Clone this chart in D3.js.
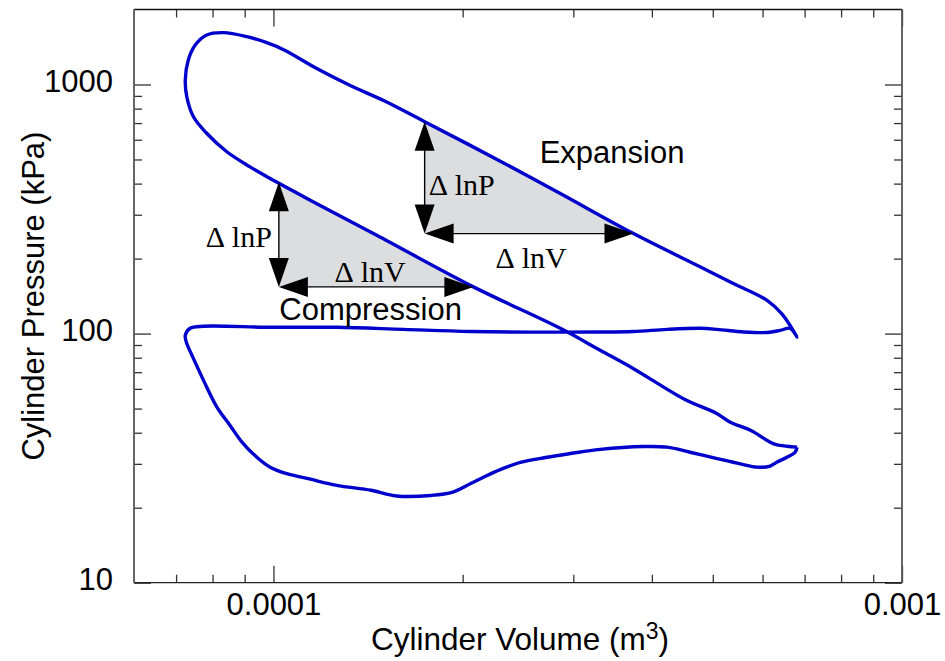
<!DOCTYPE html>
<html>
<head>
<meta charset="utf-8">
<script src="https://cdn.jsdelivr.net/npm/d3@7"></script>
<style>
  html, body { margin: 0; padding: 0; background: #fff; }
  svg { display: block; }
</style>
</head>
<body>
<svg id="chart" width="945" height="661"></svg>
<script>
// Cylinder volume (m^3) and pressure (kPa) around one engine cycle:
// compression, combustion/expansion, exhaust stroke, intake stroke.
const volume = [
  6.81e-4, 6.56e-4, 6.25e-4, 5.74e-4, 5.33e-4, 5.08e-4, 4.49e-4, 3.74e-4, 3.31e-4, 2.86e-4,
  2.08e-4, 1.46e-4, 1.17e-4, 1.02e-4, 9.18e-5, 8.43e-5, 7.83e-5, 7.46e-5, 7.28e-5, 7.24e-5,
  7.32e-5, 7.51e-5, 7.83e-5, 8.33e-5, 9.07e-5, 9.76e-5, 1.04e-4, 1.17e-4, 1.32e-4, 1.50e-4,
  1.74e-4, 2.30e-4, 2.86e-4, 3.74e-4, 4.78e-4, 5.39e-4, 6.10e-4, 6.44e-4, 6.68e-4, 6.81e-4,
  6.64e-4, 6.40e-4, 6.10e-4, 5.60e-4, 5.08e-4, 4.78e-4, 4.23e-4, 3.74e-4, 3.31e-4, 2.06e-4,
  1.61e-4, 1.26e-4, 9.88e-5, 7.74e-5, 7.37e-5, 7.24e-5, 7.28e-5, 7.42e-5, 7.74e-5, 8.13e-5,
  8.53e-5, 8.91e-5, 9.41e-5, 9.88e-5, 1.05e-4, 1.14e-4, 1.26e-4, 1.43e-4, 1.57e-4, 1.78e-4,
  1.93e-4, 2.06e-4, 2.17e-4, 2.30e-4, 2.47e-4, 2.71e-4, 2.97e-4, 3.31e-4, 3.88e-4, 4.23e-4,
  4.60e-4, 5.08e-4, 5.53e-4, 5.88e-4, 6.17e-4, 6.33e-4, 6.56e-4, 6.76e-4, 6.81e-4
];
const pressure = [
  35.0, 35.3, 36.1, 40.9, 44.1, 47.7, 54.8, 72.3, 85.7, 105,
  154, 248, 333, 401, 467, 537, 637, 742, 893, 1043,
  1255, 1441, 1581, 1615, 1556, 1472, 1376, 1162, 995, 860,
  709, 491, 365, 252, 185, 159, 136, 120, 105, 96.9,
  105, 103, 101, 101.5, 104, 105, 104, 102, 101.5, 102,
  104, 106, 106, 107, 105, 98.4, 91.2, 81.8, 64.9, 50.7,
  42.8, 36.7, 31.9, 29.1, 27.4, 26.1, 24.6, 23.5, 22.3, 22.4,
  23.1, 25.0, 26.7, 28.5, 30.4, 31.8, 33.0, 34.3, 35.2, 35.0,
  33.4, 31.5, 30.0, 29.1, 29.4, 30.5, 31.9, 33.4, 35.0
];

// Slope triangles (compression, expansion): corners in data units
const triNames   = ["compression", "expansion"];
const triVLeft   = [1.02e-4, 1.74e-4];
const triVRight  = [2.08e-4, 3.74e-4];
const triPTop    = [405, 709];
const triPBottom = [154, 252];

// Axis ticks
const xMajorTicks = [1e-4, 1e-3];
const xMajorLabels = ["0.0001", "0.001"];
const xMinorTicks = [7e-5, 8e-5, 9e-5, 2e-4, 3e-4, 4e-4, 5e-4, 6e-4, 7e-4, 8e-4, 9e-4];
const yMajorTicks = [10, 100, 1000];
const yMajorLabels = ["10", "100", "1000"];
const yMinorTicks = [20, 30, 40, 50, 60, 70, 80, 90, 200, 300, 400, 500, 600, 700, 800, 900];

const xTitle = "Cylinder Volume (m";
const xTitleSup = "3";
const yTitle = "Cylinder Pressure (kPa)";
const phaseLabels = ["Compression", "Expansion"];

const W = 945, H = 661;
const margin = { top: 9.5, right: 43, bottom: 78.3, left: 134 };
const innerW = W - margin.left - margin.right;
const innerH = H - margin.top - margin.bottom;

const sans = "'Liberation Sans', Arial, Helvetica, sans-serif";
const serif = "'Liberation Serif', 'Times New Roman', Times, serif";

const svg = d3.select("#chart");
const g = svg.append("g").attr("transform", `translate(${margin.left},${margin.top})`);

const x = d3.scaleLog().domain([6e-5, 1e-3]).range([0, innerW]);
const y = d3.scaleLog().domain([10, 2000]).range([innerH, 0]);

// ---- slope triangles (under the curve) ----
const tri = g.append("g").attr("class", "triangles");
triNames.forEach((name, i) => {
  const xl = x(triVLeft[i]), xr = x(triVRight[i]);
  const yt = y(triPTop[i]), yb = y(triPBottom[i]);
  tri.append("path")
    .attr("d", `M${xl},${yt}L${xl},${yb}L${xr},${yb}Z`)
    .attr("fill", "#dcddde")
    .attr("stroke", "none");
  tri.append("line")
    .attr("x1", xl).attr("y1", yt).attr("x2", xr).attr("y2", yb)
    .attr("stroke", "#222").attr("stroke-width", 0.8);
});

// ---- cycle curve ----
const line = d3.line()
  .x(d => x(d[0]))
  .y(d => y(d[1]))
  .curve(d3.curveCatmullRom.alpha(0.5));

g.append("path")
  .datum(volume.map((v, i) => [v, pressure[i]]))
  .attr("d", line)
  .attr("fill", "none")
  .attr("stroke", "#0000cc")
  .attr("stroke-width", 3.4)
  .attr("stroke-linejoin", "round");

// ---- double arrows on each triangle ----
const headLen = 29, headHalf = 10;
function arrowHead(parent, tipX, tipY, dirX, dirY) {
  // dir points from the base toward the tip
  const bx = tipX - dirX * headLen, by = tipY - dirY * headLen;
  const px = -dirY * headHalf, py = dirX * headHalf;
  parent.append("path")
    .attr("d", `M${tipX},${tipY}L${bx + px},${by + py}L${bx - px},${by - py}Z`)
    .attr("fill", "#000");
}
const arrows = g.append("g").attr("class", "arrows");
triNames.forEach((name, i) => {
  const xl = x(triVLeft[i]), xr = x(triVRight[i]);
  const yt = y(triPTop[i]), yb = y(triPBottom[i]);
  arrows.append("line").attr("x1", xl).attr("y1", yt + 5).attr("x2", xl).attr("y2", yb - 5)
    .attr("stroke", "#000").attr("stroke-width", 1.4);
  arrows.append("line").attr("x1", xl + 5).attr("y1", yb).attr("x2", xr - 5).attr("y2", yb)
    .attr("stroke", "#000").attr("stroke-width", 1.4);
  arrowHead(arrows, xl, yt, 0, -1);
  arrowHead(arrows, xl, yb, 0, 1);
  arrowHead(arrows, xl, yb, -1, 0);
  arrowHead(arrows, xr, yb, 1, 0);
});

// ---- Δ labels ----
const dl = g.append("g").attr("font-family", serif).attr("font-size", 30)
  .attr("word-spacing", 1).attr("fill", "#000");
{
  // compression triangle
  const xl = x(triVLeft[0]), xr = x(triVRight[0]);
  const yt = y(triPTop[0]), yb = y(triPBottom[0]);
  dl.append("text").attr("x", xl - 7).attr("y", (yt + yb) / 2 + 12)
    .attr("text-anchor", "end").text("\u0394 lnP");
  dl.append("text").attr("x", (xl + xr) / 2 - 6).attr("y", yb - 5)
    .attr("text-anchor", "middle").text("\u0394 lnV");
}
{
  // expansion triangle
  const xl = x(triVLeft[1]), xr = x(triVRight[1]);
  const yt = y(triPTop[1]), yb = y(triPBottom[1]);
  dl.append("text").attr("x", xl + 4).attr("y", (yt + yb) / 2 + 17.5)
    .attr("text-anchor", "start").text("\u0394 lnP");
  dl.append("text").attr("x", (xl + xr) / 2 + 2).attr("y", yb + 34)
    .attr("text-anchor", "middle").text("\u0394 lnV");
}

// ---- phase labels ----
const phase = g.append("g").attr("font-family", sans).attr("font-size", 31).attr("fill", "#000");
phase.append("text")
  .attr("x", x(triVLeft[0]) + 0.5)
  .attr("y", y(triPBottom[0]) + 33.5)
  .text(phaseLabels[0]);
phase.append("text")
  .attr("x", x(triVLeft[1]) + 115)
  .attr("y", y(triPTop[1]) + 41)
  .text(phaseLabels[1]);

// ---- axes: ticks on all four sides, pointing inward ----
function styleAxis(sel) {
  sel.select(".domain").remove();
  sel.selectAll(".tick line").attr("stroke", "#333").attr("stroke-width", 1.3);
}
const fmtX = d => xMajorLabels[xMajorTicks.indexOf(d)];
const fmtY = d => yMajorLabels[yMajorTicks.indexOf(d)];

// bottom
g.append("g").attr("transform", `translate(0,${innerH})`)
  .call(d3.axisBottom(x).tickValues(xMinorTicks).tickSize(-8).tickSizeOuter(0).tickFormat(""))
  .call(styleAxis);
const xb = g.append("g").attr("transform", `translate(0,${innerH})`)
  .call(d3.axisBottom(x).tickValues(xMajorTicks).tickSize(-17).tickSizeOuter(0).tickFormat(fmtX))
  .call(styleAxis);
xb.selectAll(".tick text")
  .attr("font-family", sans).attr("font-size", 31).attr("fill", "#000")
  .attr("y", 32.5).attr("dy", 0);

// top
g.append("g")
  .call(d3.axisTop(x).tickValues(xMinorTicks).tickSize(-8).tickSizeOuter(0).tickFormat(""))
  .call(styleAxis);
g.append("g")
  .call(d3.axisTop(x).tickValues(xMajorTicks).tickSize(-17).tickSizeOuter(0).tickFormat(""))
  .call(styleAxis);

// left
g.append("g")
  .call(d3.axisLeft(y).tickValues(yMinorTicks).tickSize(-8).tickSizeOuter(0).tickFormat(""))
  .call(styleAxis);
const yl = g.append("g")
  .call(d3.axisLeft(y).tickValues(yMajorTicks).tickSize(-17).tickSizeOuter(0).tickFormat(fmtY))
  .call(styleAxis);
yl.selectAll(".tick text")
  .attr("font-family", sans).attr("font-size", 31).attr("fill", "#000")
  .attr("x", -21).attr("dy", "0.21em");

// right
g.append("g").attr("transform", `translate(${innerW},0)`)
  .call(d3.axisRight(y).tickValues(yMinorTicks).tickSize(-8).tickSizeOuter(0).tickFormat(""))
  .call(styleAxis);
g.append("g").attr("transform", `translate(${innerW},0)`)
  .call(d3.axisRight(y).tickValues(yMajorTicks).tickSize(-17).tickSizeOuter(0).tickFormat(""))
  .call(styleAxis);

// frame
g.append("line").attr("x1", 0).attr("x2", innerW).attr("y1", 0).attr("y2", 0)
  .attr("stroke", "#111").attr("stroke-width", 1.3);
g.append("line").attr("x1", 0).attr("x2", innerW).attr("y1", innerH).attr("y2", innerH)
  .attr("stroke", "#222").attr("stroke-width", 1.3);
g.append("line").attr("x1", 0).attr("x2", 0).attr("y1", 0).attr("y2", innerH)
  .attr("stroke", "#555").attr("stroke-width", 1.8);
g.append("line").attr("x1", innerW).attr("x2", innerW).attr("y1", 0).attr("y2", innerH)
  .attr("stroke", "#555").attr("stroke-width", 1.8);

// ---- axis titles ----
const xt = svg.append("text")
  .attr("x", margin.left + innerW / 2 + 2)
  .attr("y", 650)
  .attr("text-anchor", "middle")
  .attr("font-family", sans).attr("font-size", 31.5).attr("fill", "#000");
xt.append("tspan").text(xTitle);
xt.append("tspan").attr("font-size", 23).attr("dy", -11).text(xTitleSup);
xt.append("tspan").attr("dy", 11).text(")");

svg.append("text")
  .attr("transform", `translate(44,${margin.top + innerH / 2 + 0}) rotate(-90)`)
  .attr("text-anchor", "middle")
  .attr("font-family", sans).attr("font-size", 31).attr("fill", "#000")
  .text(yTitle);
</script>
</body>
</html>
